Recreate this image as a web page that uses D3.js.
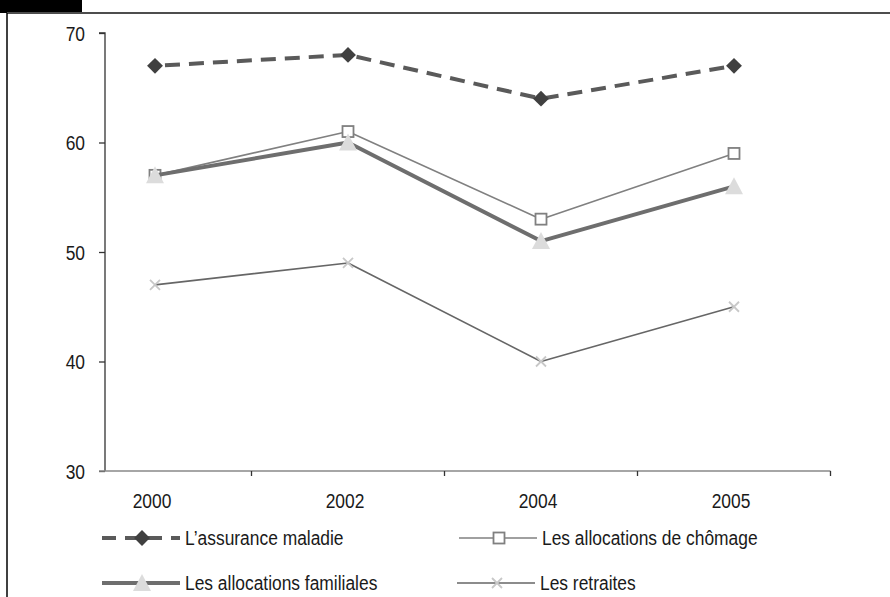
<!DOCTYPE html>
<html><head><meta charset="utf-8">
<script src="https://cdn.jsdelivr.net/npm/d3@7"></script>
<style>body{margin:0;background:#fff}svg{display:block;font-family:"Liberation Sans",Arial,sans-serif}</style>
</head><body><svg id="c" width="890" height="597"></svg>
<script>
const categories = ["2000", "2002", "2004", "2005"];
const yTicks = [30, 40, 50, 60, 70];
const seriesNames = ["L\u2019assurance maladie", "Les allocations de chômage", "Les allocations familiales", "Les retraites"];
const maladie = [67, 68, 64, 67];
const chomage = [57, 61, 53, 59];
const familiales = [57, 60, 51, 56];
const retraites = [47, 49, 40, 45];

const FS = 20, SX = 0.87;
const svg = d3.select("#c");
function label(g, x, y, txt, anchor) {
  return g.append("text").attr("transform", `translate(${x},${y}) scale(${SX},1)`)
    .attr("text-anchor", anchor || "start").attr("font-size", FS).attr("fill", "#1a1a1a").text(txt);
}
// frame
svg.append("rect").attr("x",0).attr("y",0).attr("width",82).attr("height",13).attr("fill","#000");
svg.append("line").attr("x1",7).attr("x2",890).attr("y1",13).attr("y2",13).attr("stroke","#4d4d4d").attr("stroke-width",2);
svg.append("line").attr("x1",7).attr("x2",7).attr("y1",13).attr("y2",597).attr("stroke","#000").attr("stroke-width",1.5);

const x = d3.scalePoint().domain(categories).range([155, 734]);
const step = x.step();
const y = d3.scaleLinear().domain([30, 70]).range([471, 33]);
const x0 = 105, xEnd = 734 + step/2;

// y axis
const ya = svg.append("g").attr("transform", `translate(${x0},0)`)
  .call(d3.axisLeft(y).tickValues(yTicks).tickSize(6).tickFormat(""));
ya.select(".domain").attr("stroke","#333").attr("stroke-width",1.3).attr("d",`M-6,${y(70)}H0V${y(30)}`);
ya.selectAll(".tick line").attr("stroke","#333").attr("stroke-width",1.3);
ya.selectAll(".tick").each(function(d){ label(d3.select(this), -20, 7, d3.format("d")(d), "end"); });

// x axis
const bounds = categories.map(c => x(c) + step/2);
const xa = svg.append("g").attr("transform", `translate(0,${y(30)})`);
xa.append("line").attr("x1",x0-6).attr("x2",xEnd).attr("y1",0).attr("y2",0).attr("stroke","#888").attr("stroke-width",1.6);
xa.selectAll("line.tk").data(bounds).join("line").attr("class","tk")
  .attr("x1",d=>d).attr("x2",d=>d).attr("y1",0).attr("y2",5).attr("stroke","#333").attr("stroke-width",1.3);
categories.forEach(c => label(xa, x(c)-3, 37, c, "middle"));

const line = d3.line().x((d,i)=>x(categories[i])).y(d=>y(d));

const series = [
  {name: seriesNames[0], data: maladie, stroke:"#5a5a5a", width:4, dash:"15,9", marker:"diamond"},
  {name: seriesNames[1], data: chomage, stroke:"#808080", width:1.6, dash:null, marker:"square"},
  {name: seriesNames[2], data: familiales, stroke:"#6e6e6e", width:4, dash:null, marker:"triangle"},
  {name: seriesNames[3], data: retraites, stroke:"#666", width:1.6, dash:null, marker:"cross"}
];

function drawMarker(g, type, cx, cy) {
  if (type === "diamond") {
    g.append("path").attr("d", d3.symbol(d3.symbolDiamond2, 160)()).attr("transform",`translate(${cx},${cy})`).attr("fill","#404040");
  } else if (type === "square") {
    g.append("rect").attr("x",cx-5.5).attr("y",cy-5.5).attr("width",11).attr("height",11).attr("fill","#fff").attr("stroke","#808080").attr("stroke-width",1.8);
  } else if (type === "triangle") {
    g.append("path").attr("d",`M${cx},${cy-9}L${cx+9},${cy+8}L${cx-9},${cy+8}Z`).attr("fill","#dcdcdc");
  } else if (type === "cross") {
    g.append("path").attr("d",`M${cx-5},${cy-5}L${cx+5},${cy+5}M${cx-5},${cy+5}L${cx+5},${cy-5}`).attr("stroke","#c8c8c8").attr("stroke-width",1.8);
  }
}

series.forEach(s => {
  const p = svg.append("path").datum(s.data).attr("d", line).attr("fill","none")
    .attr("stroke", s.stroke).attr("stroke-width", s.width).attr("stroke-linejoin","round");
  if (s.dash) p.attr("stroke-dasharray", s.dash).attr("stroke-dashoffset",-10);
  const g = svg.append("g");
  s.data.forEach((v,i) => drawMarker(g, s.marker, x(categories[i]), y(v)));
});

// legend
const legendPos = [[102,538],[459,538],[102,583],[457,583]];
series.forEach((s,i) => {
  const [lx, ly] = legendPos[i];
  const g = svg.append("g");
  const l = g.append("line").attr("x1",lx).attr("x2",lx+78).attr("y1",ly).attr("y2",ly)
    .attr("stroke",s.stroke).attr("stroke-width",s.width);
  if (s.dash) l.attr("stroke-dasharray","14,9");
  drawMarker(g, s.marker, lx+40, ly);
  label(g, lx+83, ly+7, s.name);
});
</script></body></html>
